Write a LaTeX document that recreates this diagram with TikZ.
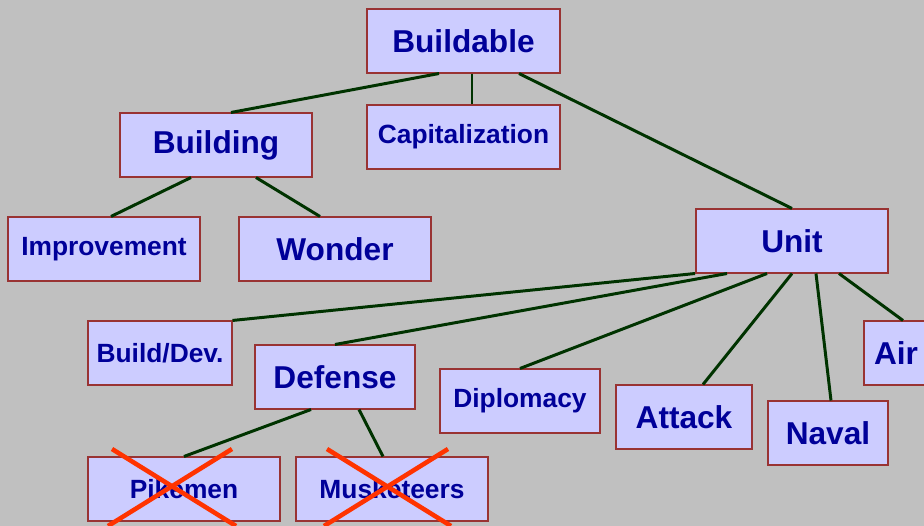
\documentclass[tikz,border=0pt]{standalone}
\usepackage{fontspec}
\setmainfont{Liberation Sans}
\usetikzlibrary{calc}

\definecolor{bggray}{HTML}{C0C0C0}
\definecolor{boxfill}{HTML}{CCCCFF}
\definecolor{boxline}{HTML}{993333}
\definecolor{boxtext}{HTML}{000099}
\definecolor{linkgreen}{HTML}{003300}
\definecolor{crossred}{HTML}{FF3300}

\begin{document}
\begin{tikzpicture}[x=0.02cm,y=-0.02cm,
  box/.style={draw=boxline,fill=boxfill,text=boxtext,inner sep=0pt,line width=0.6pt,
    minimum width=3.84cm,minimum height=1.28cm},
  big/.style={box,font=\fontsize{18}{20}\bfseries\selectfont},
  small/.style={box,font=\fontsize{15}{17}\bfseries\selectfont},
  link/.style={draw=linkgreen,line width=1.7pt},
  cross/.style={draw=crossred,line width=2.6pt}]

% Background
\fill[bggray] (0,0) rectangle (924,526);
\useasboundingbox (0,0) rectangle (924,526);

% Top level
\node[big,minimum width=3.86cm] (buildable) at (463.5,41) {Buildable};
\node[big] (building) at (216,145) {Building};
\node[small,minimum width=3.86cm] (capital) at (463.5,137) {Capitalization};
\node[big] (unit) at (792,241) {Unit};

% Buildings
\node[small] (improve) at (104,249) {Improvement};
\node[big] (wonder) at (335,249) {Wonder};

% Units
\node[small,minimum width=2.88cm] (builddev) at (160,353) {Build/Dev.};
\node[big,minimum width=3.2cm] (defense) at (335,377) {Defense};
\node[small,minimum width=3.2cm] (diplomacy) at (520,401) {Diplomacy};
\node[big,minimum width=2.72cm] (attack) at (684,417) {Attack};
\node[big,minimum width=2.4cm] (naval) at (828,433) {Naval};
\node[big,minimum width=1.28cm] (air) at (896,353) {Air};

% Defense units
\node[small] (pikemen) at (184,489) {Pikemen};
\node[small] (musket) at (392,489) {Musketeers};

% Links
\draw[link] ($(buildable.south)+(-24.5,0)$) -- ($(building.north)+(15,0)$);
\draw[link] ($(buildable.south)+(8.5,0)$) -- ($(capital.north)+(8.5,0)$);
\draw[link] ($(buildable.south)+(55.5,0)$) -- (unit.north);
\draw[link] ($(building.south)+(-25,0)$) -- ($(improve.north)+(7,0)$);
\draw[link] ($(building.south)+(40,0)$) -- ($(wonder.north)+(-15,0)$);
\draw[link] ($(unit.south)+(-97,0)$) -- (builddev.north east);
\draw[link] ($(unit.south)+(-65,0)$) -- (defense.north);
\draw[link] ($(unit.south)+(-25,0)$) -- (diplomacy.north);
\draw[link] (unit.south) -- ($(attack.north)+(19,0)$);
\draw[link] ($(unit.south)+(24,0)$) -- ($(naval.north)+(3,0)$);
\draw[link] ($(unit.south)+(47,0)$) -- ($(air.north)+(7,0)$);
\draw[link] ($(defense.south)+(-24,0)$) -- (pikemen.north);
\draw[link] ($(defense.south)+(24,0)$) -- ($(musket.north)+(-9,0)$);

% Crossed out
\draw[cross] (112,449) -- (236,526);
\draw[cross] (232,449) -- (108,526);
\draw[cross] (327,449) -- (451,526);
\draw[cross] (448,449) -- (324,526);

\end{tikzpicture}
\end{document}
